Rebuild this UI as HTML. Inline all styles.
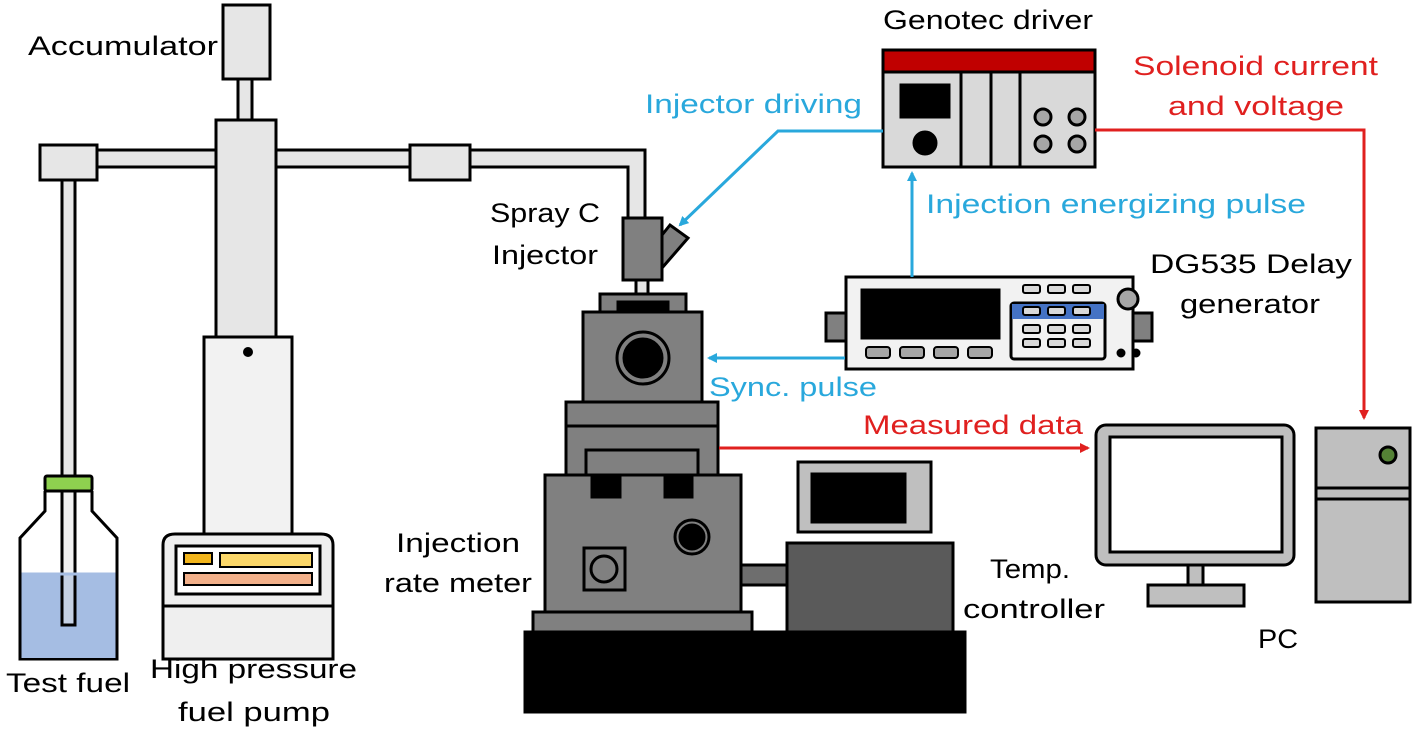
<!DOCTYPE html>
<html><head><meta charset="utf-8"><style>
html,body{margin:0;padding:0;background:#fff;}
svg{display:block;}
text{font-family:"Liberation Sans",sans-serif;font-size:27px;}
</style></head><body>
<svg width="1415" height="734" viewBox="0 0 1415 734" xmlns="http://www.w3.org/2000/svg">
<defs>
<marker id="ab" markerWidth="10" markerHeight="10" refX="8" refY="5" orient="auto" markerUnits="userSpaceOnUse"><path d="M0,0 L10,5 L0,10 z" fill="#29a8dc"/></marker>
<marker id="ar" markerWidth="10" markerHeight="10" refX="8" refY="5" orient="auto" markerUnits="userSpaceOnUse"><path d="M0,0 L10,5 L0,10 z" fill="#e0201f"/></marker>
</defs>
<g stroke="#000" stroke-width="3">
<rect x="95" y="150" width="550" height="17" fill="#e6e6e6"/>
<rect x="628" y="150" width="17" height="75" fill="#e6e6e6" stroke="none"/>
<path d="M95,150 H645 V222 M95,167 H628 V222" fill="none"/>
<rect x="62" y="178" width="13" height="447" fill="#e6e6e6"/>
<rect x="238" y="78" width="14" height="44" fill="#e6e6e6"/>
<rect x="223" y="5" width="47" height="74" fill="#e6e6e6"/>
<rect x="216" y="120" width="60" height="218" fill="#e6e6e6"/>
<rect x="204" y="337" width="88" height="200" fill="#f2f2f2"/>
<circle cx="248" cy="352" r="5" fill="#000" stroke="none"/>
<rect x="40" y="145" width="57" height="35" fill="#e6e6e6"/>
<rect x="410" y="145" width="60" height="35" fill="#e6e6e6"/>
<path d="M45,491 V511 L20,538 V659 H117 V538 L92,511 V491" fill="#fff"/>
<rect x="21.5" y="574" width="94" height="84" fill="#a5bde3" stroke="none"/>
<rect x="62" y="480" width="13" height="145" fill="#e6e6e6" fill-opacity="0.5"/>
<path d="M21.5,574 H115.5" stroke="#a5bde3"/>
<rect x="45" y="476" width="47" height="15" fill="#8ed14f" rx="2"/>
<path d="M163,659 V545 Q163,534 175,534 H321 Q333,534 333,545 V659 Z" fill="#efefef"/>
<line x1="163" y1="606" x2="333" y2="606"/>
<rect x="176" y="546" width="144" height="48" fill="#fff"/>
<rect x="184" y="553" width="28" height="11" fill="#f2b51c" stroke-width="2"/>
<rect x="220" y="553" width="92" height="14" fill="#fcd86a" stroke-width="2"/>
<rect x="184" y="573" width="128" height="12" fill="#f2b08a" stroke-width="2"/>
<rect x="636" y="278" width="12" height="18" fill="#e6e6e6"/>
<polygon points="662,235 670,225 688,238 662,268" fill="#808080"/>
<rect x="623" y="218" width="39" height="62" fill="#808080"/>
<rect x="600" y="294" width="86" height="19" fill="#808080"/>
<rect x="618" y="302" width="50" height="10" fill="#000"/>
<rect x="583" y="312" width="119" height="90" fill="#808080"/>
<circle cx="643" cy="358" r="26" fill="#808080"/>
<circle cx="643" cy="358" r="19" fill="#000"/>
<rect x="566" y="402" width="152" height="74" fill="#808080"/>
<line x1="566" y1="426" x2="718" y2="426"/>
<rect x="586" y="450" width="112" height="26" fill="#808080"/>
<rect x="545" y="475" width="196" height="137" fill="#808080"/>
<rect x="592" y="475" width="28" height="22" fill="#000"/>
<rect x="665" y="475" width="27" height="22" fill="#000"/>
<circle cx="692" cy="537" r="17" fill="#808080"/>
<circle cx="692" cy="537" r="12" fill="#000"/>
<rect x="584" y="548" width="41" height="42" fill="#808080"/>
<circle cx="604" cy="569" r="13" fill="#808080"/>
<rect x="533" y="612" width="219" height="20" fill="#808080"/>
<rect x="525" y="632" width="440" height="80" fill="#000"/>
<rect x="741" y="565" width="46" height="20" fill="#6e6e6e"/>
<rect x="798" y="462" width="133" height="70" fill="#bfbfbf"/>
<rect x="812" y="474" width="93" height="48" fill="#000"/>
<rect x="787" y="543" width="166" height="89" fill="#5a5a5a"/>
<rect x="883" y="50" width="212" height="117" fill="#d9d9d9"/>
<rect x="883" y="50" width="212" height="22" fill="#c00000"/>
<rect x="901" y="85" width="48" height="32" fill="#000"/>
<circle cx="925" cy="143" r="11" fill="#000"/>
<line x1="961" y1="72" x2="961" y2="167"/>
<line x1="991" y1="72" x2="991" y2="167"/>
<line x1="1020" y1="72" x2="1020" y2="167"/>
<circle cx="1043" cy="117" r="8" fill="#a6a6a6"/><circle cx="1077" cy="117" r="8" fill="#a6a6a6"/>
<circle cx="1043" cy="144" r="8" fill="#a6a6a6"/><circle cx="1077" cy="144" r="8" fill="#a6a6a6"/>
<rect x="826" y="313" width="20" height="28" fill="#808080"/>
<rect x="1132" y="313" width="20" height="28" fill="#808080"/>
<rect x="846" y="277" width="287" height="92" fill="#f2f2f2"/>
<rect x="862" y="290" width="137" height="48" fill="#000"/>
<g fill="#a6a6a6" stroke-width="2">
<rect x="866" y="347" width="24" height="11" rx="3"/><rect x="900" y="347" width="24" height="11" rx="3"/><rect x="934" y="347" width="24" height="11" rx="3"/><rect x="968" y="347" width="24" height="11" rx="3"/>
</g>
<rect x="1011" y="303" width="94" height="56" fill="#f2f2f2" rx="3"/>
<rect x="1012" y="304" width="92" height="15" fill="#4472c4" stroke="none"/>
<g fill="#d9d9d9" stroke-width="2">
<rect x="1023" y="285" width="17" height="8" rx="2"/><rect x="1048" y="285" width="17" height="8" rx="2"/><rect x="1073" y="285" width="17" height="8" rx="2"/>
<rect x="1023" y="307" width="17" height="8" rx="2"/><rect x="1048" y="307" width="17" height="8" rx="2"/><rect x="1073" y="307" width="17" height="8" rx="2"/>
<rect x="1023" y="325" width="17" height="8" rx="2"/><rect x="1048" y="325" width="17" height="8" rx="2"/><rect x="1073" y="325" width="17" height="8" rx="2"/>
<rect x="1023" y="339" width="17" height="8" rx="2"/><rect x="1048" y="339" width="17" height="8" rx="2"/><rect x="1073" y="339" width="17" height="8" rx="2"/>
</g>
<circle cx="1128" cy="299" r="10" fill="#a6a6a6"/>
<circle cx="1121" cy="353" r="3" fill="#000"/><circle cx="1136" cy="353" r="3" fill="#000"/>
<rect x="1096" y="425" width="198" height="140" rx="10" fill="#bfbfbf"/>
<rect x="1110" y="437" width="172" height="115" fill="#fff"/>
<rect x="1188" y="565" width="15" height="20" fill="#bfbfbf"/>
<rect x="1148" y="585" width="96" height="21" fill="#bfbfbf"/>
<rect x="1316" y="428" width="94" height="174" fill="#bfbfbf"/>
<rect x="1316" y="488" width="94" height="11" fill="#bfbfbf"/>
<circle cx="1388" cy="455" r="8" fill="#548235"/>
</g>
<g fill="none" stroke-width="3">
<path d="M883,131 H778 L680,225" stroke="#29a8dc" marker-end="url(#ab)"/>
<path d="M912,277 V173" stroke="#29a8dc" marker-end="url(#ab)"/>
<path d="M845,358 H709" stroke="#29a8dc" marker-end="url(#ab)"/>
<path d="M1095,130 H1364 V418" stroke="#e0201f" marker-end="url(#ar)"/>
<path d="M719,448 H1088" stroke="#e0201f" marker-end="url(#ar)"/>
</g>
<g fill="#000">
<text x="28" y="55" textLength="190" lengthAdjust="spacingAndGlyphs">Accumulator</text>
<text x="490" y="222" textLength="110" lengthAdjust="spacingAndGlyphs">Spray C</text>
<text x="492" y="264" textLength="106" lengthAdjust="spacingAndGlyphs">Injector</text>
<text x="883" y="29" textLength="210" lengthAdjust="spacingAndGlyphs">Genotec driver</text>
<text x="1150" y="273" textLength="202" lengthAdjust="spacingAndGlyphs">DG535 Delay</text>
<text x="1180" y="313" textLength="140" lengthAdjust="spacingAndGlyphs">generator</text>
<text x="396" y="552" textLength="124" lengthAdjust="spacingAndGlyphs">Injection</text>
<text x="384" y="592" textLength="148" lengthAdjust="spacingAndGlyphs">rate meter</text>
<text x="990" y="578" textLength="80" lengthAdjust="spacingAndGlyphs">Temp.</text>
<text x="963" y="618" textLength="142" lengthAdjust="spacingAndGlyphs">controller</text>
<text x="1258" y="648" textLength="40" lengthAdjust="spacingAndGlyphs">PC</text>
<text x="6" y="692" textLength="124" lengthAdjust="spacingAndGlyphs">Test fuel</text>
<text x="150" y="678" textLength="207" lengthAdjust="spacingAndGlyphs">High pressure</text>
<text x="178" y="721" textLength="152" lengthAdjust="spacingAndGlyphs">fuel pump</text>
</g>
<g fill="#29a8dc">
<text x="645" y="113" textLength="217" lengthAdjust="spacingAndGlyphs">Injector driving</text>
<text x="926" y="213" textLength="380" lengthAdjust="spacingAndGlyphs">Injection energizing pulse</text>
<text x="709" y="396" textLength="168" lengthAdjust="spacingAndGlyphs">Sync. pulse</text>
</g>
<g fill="#e0201f">
<text x="1133" y="75" textLength="245" lengthAdjust="spacingAndGlyphs">Solenoid current</text>
<text x="1168" y="115" textLength="176" lengthAdjust="spacingAndGlyphs">and voltage</text>
<text x="863" y="434" textLength="220" lengthAdjust="spacingAndGlyphs">Measured data</text>
</g>
</svg>
</body></html>
